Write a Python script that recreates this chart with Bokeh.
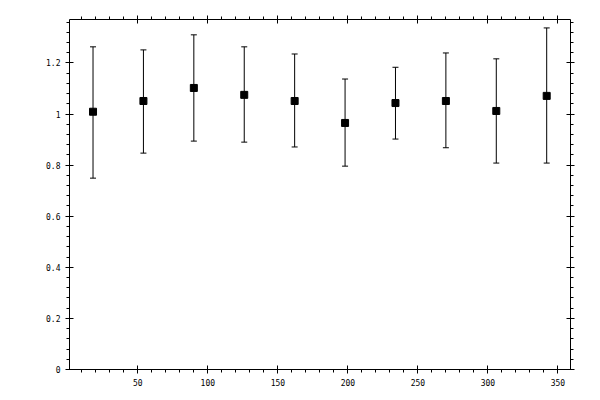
#!/usr/bin/env python3
"""
误差棒散点图：均值与上下限
"""
from bokeh.plotting import figure
from bokeh.models import (ColumnDataSource, Whisker, TeeHead, LinearAxis,
                          SingleIntervalTicker, CustomJSTickFormatter, Range1d)
from bokeh.embed import file_html
from bokeh.resources import INLINE

# 数据
x_pos = [18, 54, 90, 126, 162, 198, 234, 270, 306, 342]
mean_vals = [1.009, 1.051, 1.102, 1.075, 1.051, 0.965, 1.043, 1.051, 1.012, 1.071]
upper_vals = [1.263, 1.251, 1.310, 1.263, 1.235, 1.137, 1.183, 1.239, 1.216, 1.337]
lower_vals = [0.749, 0.847, 0.894, 0.890, 0.871, 0.796, 0.902, 0.868, 0.808, 0.808]

FONT = "DejaVu Sans Mono"

src = ColumnDataSource(data=dict(x=x_pos, y=mean_vals, upper=upper_vals, lower=lower_vals))

p = figure(
    width=592, height=392,
    x_range=Range1d(1.2, 359),
    y_range=Range1d(0, 1.37),
    x_axis_location=None, y_axis_location=None,
    output_backend="svg", toolbar_location=None,
    min_border_left=69, min_border_right=22,
    min_border_top=19, min_border_bottom=23,
)
p.xgrid.visible = False
p.ygrid.visible = False
p.outline_line_color = None

y_fmt = CustomJSTickFormatter(code="return tick.toFixed(1).replace(/\\.0$/, '');")
blank_fmt = CustomJSTickFormatter(code="return '';")


def make_axis(kind, labels):
    if kind == "x":
        ticker = SingleIntervalTicker(interval=50, num_minor_ticks=5)
    else:
        ticker = SingleIntervalTicker(interval=0.2, num_minor_ticks=5)
    ax = LinearAxis(ticker=ticker)
    if not labels:
        ax.formatter = blank_fmt
    elif kind == "y":
        ax.formatter = y_fmt
    ax.axis_line_color = "black"
    ax.major_tick_line_color = "black"
    ax.minor_tick_line_color = "black"
    ax.major_tick_in = 4
    ax.major_tick_out = 4
    ax.minor_tick_in = 0
    ax.minor_tick_out = 3
    ax.major_label_text_font = FONT
    ax.major_label_text_font_size = "8px"
    ax.major_label_text_color = "black"
    ax.major_label_standoff = 5
    return ax


p.add_layout(make_axis("x", True), "below")
p.add_layout(make_axis("x", False), "above")
p.add_layout(make_axis("y", True), "left")
p.add_layout(make_axis("y", False), "right")

# 误差棒
w = Whisker(source=src, base="x", upper="upper", lower="lower",
            line_color="black", line_width=1,
            upper_head=TeeHead(size=6, line_color="black", line_width=1),
            lower_head=TeeHead(size=6, line_color="black", line_width=1))
p.add_layout(w)

# 均值点
p.scatter("x", "y", source=src, marker="square", size=7,
          fill_color="black", line_color="black")

open("out.html", "w").write(file_html(p, INLINE))
